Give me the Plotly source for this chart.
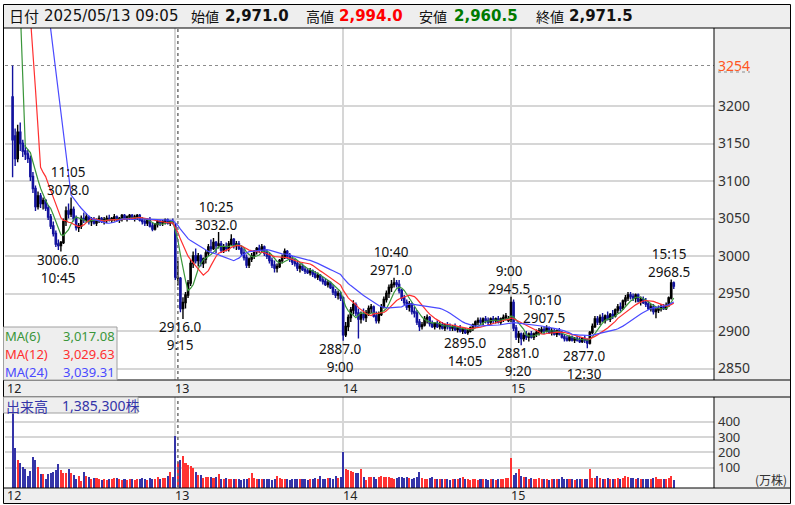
import plotly.graph_objects as go
import pandas as pd

# ------------------------------------------------------------------ data
days = ["12", "13", "14", "15"]
first_bar_time = ["9:10", "9:00", "9:00", "9:00"]   # 12th: delayed open

# closes of the previous session (seed for the moving averages)
prev_closes = [3705, 3700, 3698, 3702, 3696, 3700, 3704, 3700, 3698, 3694, 3700, 3702,
               3698, 3700, 3696, 3700, 3702, 3698, 3700, 3704, 3700, 3698, 3702]

# 5-minute bars (open, high, low, close)
day12_ohlc = [
    (3212, 3254, 3105, 3155), (3160, 3170, 3120, 3130), (3130, 3175, 3125, 3165), (3165, 3178, 3140, 3150),
    (3150, 3155, 3132, 3140), (3140, 3148, 3128, 3136), (3136, 3142, 3124, 3130), (3130, 3134, 3100, 3106),
    (3106, 3112, 3084, 3090), (3090, 3094, 3060, 3066), (3066, 3086, 3062, 3080), (3080, 3084, 3064, 3070),
    (3070, 3078, 3062, 3074), (3074, 3076, 3060, 3064), (3064, 3068, 3048, 3052), (3052, 3056, 3036, 3040),
    (3040, 3046, 3026, 3030), (3030, 3034, 3012, 3016), (3016, 3022, 3008, 3014), (3014, 3020, 3006, 3018),
    (3018, 3050, 3016, 3046), (3046, 3066, 3040, 3060), (3060, 3070, 3050, 3056), (3056, 3078, 3052, 3062),
    (3062, 3066, 3046, 3050), (3050, 3054, 3034, 3038), (3038, 3044, 3032, 3040), (3040, 3054, 3036, 3050),
    (3050, 3058, 3044, 3048), (3048, 3057, 3044, 3052), (3052, 3054, 3042, 3046), (3046, 3052, 3040, 3048),
    (3048, 3052, 3042, 3044), (3044, 3050, 3040, 3048), (3048, 3054, 3044, 3050), (3050, 3052, 3044, 3046),
    (3046, 3052, 3042, 3048), (3048, 3054, 3044, 3050), (3050, 3055, 3046, 3048), (3048, 3052, 3044, 3050),
    (3050, 3056, 3046, 3052), (3052, 3054, 3046, 3048), (3048, 3052, 3044, 3050), (3050, 3056, 3046, 3054),
    (3054, 3056, 3048, 3050), (3050, 3054, 3046, 3052), (3052, 3056, 3048, 3054), (3054, 3056, 3048, 3050),
    (3050, 3055, 3046, 3052), (3052, 3056, 3048, 3054), (3054, 3056, 3046, 3048), (3048, 3052, 3042, 3046),
    (3046, 3050, 3040, 3044), (3044, 3050, 3040, 3048), (3048, 3052, 3038, 3040), (3040, 3044, 3033, 3036),
    (3036, 3044, 3034, 3042), (3042, 3048, 3038, 3046), (3046, 3048, 3040, 3044), (3044, 3048, 3040, 3046),
    (3046, 3050, 3042, 3048), (3048, 3050, 3042, 3044), (3044, 3048, 3040, 3046), (3046, 3050, 3042, 3045),
]
day13_ohlc = [
    (3040, 3044, 2968, 2972), (2971, 2994, 2960.5, 2971.5), (2970, 2972, 2925, 2930), (2930, 2945, 2916, 2938),
    (2938, 2952, 2930, 2948), (2948, 2968, 2944, 2964), (2964, 2995, 2960, 2990), (2990, 3006, 2984, 3000),
    (3000, 3010, 2990, 2994), (2994, 3004, 2986, 3000), (3000, 3002, 2986, 2990), (2990, 2998, 2984, 2996),
    (2996, 3008, 2990, 3004), (3004, 3016, 3000, 3012), (3012, 3022, 3006, 3010), (3010, 3024, 3008, 3018),
    (3018, 3020, 3004, 3014), (3014, 3032, 3010, 3016), (3016, 3020, 3004, 3008), (3008, 3016, 3004, 3012),
    (3012, 3018, 3006, 3010), (3010, 3020, 3006, 3016), (3016, 3029, 3014, 3022), (3022, 3024, 3010, 3014),
    (3014, 3020, 3008, 3016), (3016, 3020, 3008, 3010), (3010, 3014, 3000, 3004), (3004, 3010, 2994, 2998),
    (2998, 3002, 2984, 2988), (2988, 2998, 2984, 2996), (2996, 3004, 2992, 3000), (3000, 3008, 2996, 3006),
    (3006, 3012, 3002, 3010), (3010, 3015, 3004, 3008), (3008, 3016, 3004, 3012), (3012, 3014, 3000, 3004),
    (3004, 3008, 2996, 3000), (3000, 3004, 2990, 2994), (2994, 2998, 2984, 2988), (2988, 2994, 2978, 2984),
    (2984, 2990, 2978, 2986), (2986, 2996, 2984, 2994), (2994, 3002, 2990, 2998), (2998, 3010, 2996, 3006),
    (3006, 3008, 2996, 3000), (3000, 3004, 2992, 2996), (2996, 3000, 2988, 2992), (2992, 2996, 2986, 2990),
    (2990, 2994, 2980, 2984), (2984, 2990, 2978, 2986), (2986, 2990, 2980, 2982), (2982, 2986, 2976, 2980),
    (2980, 2984, 2976, 2978), (2978, 2984, 2974, 2980), (2980, 2982, 2972, 2976), (2976, 2980, 2970, 2972),
    (2972, 2978, 2968, 2974), (2974, 2976, 2966, 2968), (2968, 2972, 2962, 2966), (2966, 2970, 2960, 2962),
    (2962, 2968, 2958, 2964), (2964, 2966, 2956, 2958), (2958, 2962, 2948, 2952), (2952, 2956, 2944, 2948),
    (2948, 2954, 2942, 2950), (2950, 2952, 2940, 2944),
]
day14_ohlc = [
    (2944, 2946, 2887, 2895), (2895, 2912, 2892, 2906), (2906, 2922, 2900, 2918), (2918, 2932, 2912, 2928),
    (2928, 2941, 2922, 2935), (2935, 2938, 2920, 2924), (2924, 2930, 2890, 2916), (2916, 2926, 2910, 2922),
    (2922, 2930, 2914, 2918), (2918, 2928, 2912, 2924), (2924, 2934, 2920, 2930), (2930, 2936, 2924, 2932),
    (2932, 2934, 2918, 2920), (2920, 2926, 2910, 2914), (2914, 2926, 2910, 2922), (2922, 2936, 2920, 2932),
    (2932, 2946, 2930, 2942), (2942, 2954, 2938, 2950), (2950, 2962, 2944, 2958), (2958, 2968, 2952, 2962),
    (2962, 2971, 2958, 2964), (2964, 2968, 2958, 2962), (2962, 2968, 2950, 2954), (2954, 2956, 2940, 2944),
    (2944, 2948, 2934, 2938), (2938, 2942, 2928, 2932), (2932, 2940, 2926, 2936), (2936, 2938, 2922, 2926),
    (2926, 2932, 2918, 2924), (2924, 2928, 2908, 2912), (2912, 2916, 2900, 2906), (2906, 2912, 2902, 2908),
    (2908, 2920, 2906, 2916), (2916, 2922, 2910, 2918), (2918, 2920, 2906, 2910), (2910, 2914, 2904, 2906),
    (2906, 2912, 2902, 2910), (2910, 2914, 2904, 2906), (2906, 2912, 2902, 2908), (2908, 2912, 2902, 2904),
    (2904, 2910, 2900, 2908), (2908, 2912, 2902, 2906), (2906, 2910, 2900, 2904), (2904, 2908, 2900, 2906),
    (2906, 2910, 2900, 2902), (2902, 2906, 2898, 2904), (2904, 2908, 2898, 2900), (2900, 2904, 2896, 2902),
    (2902, 2904, 2896, 2898), (2898, 2902, 2895, 2900), (2900, 2906, 2898, 2904), (2904, 2910, 2900, 2908),
    (2908, 2914, 2904, 2912), (2912, 2918, 2908, 2914), (2914, 2918, 2908, 2912), (2912, 2918, 2908, 2916),
    (2916, 2920, 2910, 2914), (2914, 2918, 2908, 2912), (2912, 2918, 2908, 2916), (2916, 2920, 2910, 2914),
    (2914, 2918, 2910, 2916), (2916, 2920, 2910, 2912), (2912, 2918, 2908, 2916), (2916, 2922, 2912, 2918),
    (2918, 2924, 2914, 2920), (2914, 2920, 2912, 2916),
]
day15_ohlc = [
    (2916, 2945.5, 2912, 2938), (2938, 2942, 2900, 2904), (2904, 2908, 2888, 2892), (2892, 2900, 2884, 2896),
    (2896, 2898, 2881, 2890), (2890, 2898, 2886, 2894), (2894, 2900, 2888, 2892), (2892, 2898, 2886, 2896),
    (2896, 2900, 2890, 2892), (2892, 2898, 2888, 2896), (2896, 2902, 2892, 2898), (2898, 2904, 2894, 2900),
    (2900, 2906, 2896, 2902), (2902, 2906, 2896, 2900), (2900, 2907.5, 2898, 2904), (2904, 2906, 2896, 2898),
    (2898, 2904, 2894, 2900), (2900, 2904, 2894, 2896), (2896, 2902, 2892, 2900), (2900, 2904, 2894, 2896),
    (2896, 2900, 2890, 2892), (2892, 2896, 2886, 2890), (2890, 2894, 2886, 2888), (2888, 2894, 2886, 2892),
    (2892, 2894, 2886, 2888), (2888, 2892, 2884, 2890), (2890, 2894, 2886, 2888), (2888, 2892, 2884, 2886),
    (2886, 2892, 2884, 2890), (2890, 2894, 2884, 2888), (2888, 2890, 2877, 2884), (2884, 2900, 2882, 2898),
    (2898, 2910, 2896, 2906), (2906, 2920, 2904, 2916), (2916, 2920, 2908, 2912), (2912, 2922, 2908, 2918),
    (2918, 2924, 2912, 2914), (2914, 2922, 2910, 2920), (2920, 2926, 2914, 2916), (2916, 2924, 2912, 2922),
    (2922, 2928, 2916, 2920), (2920, 2930, 2918, 2928), (2928, 2936, 2924, 2932), (2932, 2938, 2926, 2930),
    (2930, 2942, 2928, 2940), (2940, 2948, 2934, 2944), (2944, 2952, 2940, 2948), (2948, 2952, 2942, 2946),
    (2946, 2950, 2940, 2944), (2944, 2950, 2938, 2948), (2948, 2950, 2938, 2940), (2940, 2946, 2934, 2942),
    (2942, 2946, 2936, 2938), (2938, 2944, 2932, 2936), (2936, 2940, 2928, 2930), (2930, 2936, 2926, 2932),
    (2932, 2936, 2922, 2926), (2926, 2932, 2917, 2928), (2928, 2934, 2924, 2930), (2930, 2936, 2926, 2932),
    (2932, 2936, 2928, 2930), (2930, 2938, 2928, 2934), (2934, 2946, 2932, 2944), (2944, 2968.5, 2942, 2964),
    (2964, 2966, 2956, 2960),
]

# volume per bar, in 10,000 shares (万株)
day12_vol = [480, 226, 150, 133, 102, 89, 48, 81, 172, 150,
             102, 59, 59, 26, 57, 67, 74, 85, 122, 85,
             67, 63, 89, 63, 52, 24, 46, 12, 74, 46,
             37, 24, 31, 31, 26, 20, 24, 22, 28, 26,
             31, 31, 24, 22, 26, 22, 28, 24, 20, 26,
             24, 31, 28, 22, 33, 26, 24, 37, 28, 31,
             35, 46, 74, 40]
day13_vol = [307, 138.53, 150, 176, 128, 118, 111, 96, 74, 52,
             52, 31, 41, 41, 41, 35, 41, 59, 28, 26,
             31, 28, 26, 24, 24, 26, 22, 24, 28, 31,
             63, 35, 28, 26, 24, 28, 26, 24, 22, 28,
             46, 31, 28, 26, 24, 22, 24, 28, 26, 24,
             26, 24, 22, 28, 26, 31, 24, 46, 28, 26,
             31, 33, 28, 48, 35, 40]
day14_vol = [204, 89, 85, 81, 74, 63, 67, 89, 41, 20,
             41, 37, 41, 28, 37, 46, 41, 41, 37, 31,
             26, 35, 41, 41, 35, 37, 31, 28, 35, 37,
             74, 31, 28, 26, 31, 41, 28, 26, 24, 28,
             26, 24, 22, 28, 26, 24, 31, 37, 26, 24,
             22, 26, 24, 22, 26, 28, 24, 22, 26, 24,
             22, 26, 24, 28, 31, 35]
day15_vol = [165, 52, 67, 89, 46, 41, 37, 26, 31, 28,
             26, 31, 28, 24, 26, 22, 28, 24, 26, 24,
             41, 28, 26, 24, 26, 22, 24, 26, 24, 28,
             24, 89, 35, 31, 48, 31, 28, 26, 31, 28,
             26, 28, 31, 26, 31, 48, 41, 31, 35, 28,
             31, 26, 28, 24, 26, 28, 31, 37, 28, 26,
             24, 28, 33, 48, 20]

price_ticks = [2850, 2900, 2950, 3000, 3050, 3100, 3150, 3200]
volume_ticks = [100, 200, 300, 400]
period_high = 3254
cursor = ("13", "9:05")

ma_periods = [6, 12, 24]
ma_names = ["MA(6)", "MA(12)", "MA(24)"]
ma_legend_values = ["3,017.08", "3,029.63", "3,039.31"]
volume_legend = ["出来高", "1,385,300株"]
header_labels = ["日付", "始値", "高値", "安値", "終値"]
header_values = ["2025/05/13 09:05", "2,971.0", "2,994.0", "2,960.5", "2,971.5"]

# high / low callouts: (day, time, price, kind)
marks = [
    ("12", "11:05", 3078.0, "high"), ("12", "10:45", 3006.0, "low"),
    ("13", "10:25", 3032.0, "high"), ("13", "9:15", 2916.0, "low"),
    ("14", "10:40", 2971.0, "high"), ("14", "9:00", 2887.0, "low"),
    ("14", "14:05", 2895.0, "low"),
    ("15", "9:00", 2945.5, "high"), ("15", "10:10", 2907.5, "high"),
    ("15", "9:20", 2881.0, "low"), ("15", "12:30", 2877.0, "low"),
    ("15", "15:15", 2968.5, "high"),
]

# ------------------------------------------------------------------ build
SLOTS = 66  # 9:00-11:25 and 12:30-15:25 in 5 minute steps


def slot(t):
    h, m = map(int, t.split(":"))
    mins = h * 60 + m
    if mins < 12 * 60:
        return (mins - 9 * 60) // 5
    return 30 + (mins - 12 * 60 - 30) // 5


def gx(day, t):
    return days.index(day) * SLOTS + slot(t)


xs, O, H, L, C, V = [], [], [], [], [], []
for d, (bars, vols) in enumerate(zip([day12_ohlc, day13_ohlc, day14_ohlc, day15_ohlc],
                                     [day12_vol, day13_vol, day14_vol, day15_vol])):
    s0 = slot(first_bar_time[d])
    for i, ((o, h, l, c), v) in enumerate(zip(bars, vols)):
        xs.append(d * SLOTS + s0 + i)
        O.append(o); H.append(h); L.append(l); C.append(c); V.append(v)

series = pd.Series(prev_closes + C, dtype=float)
ma = {n: series.rolling(n).mean().iloc[len(prev_closes):].tolist() for n in ma_periods}

vol_colors = ["#ff3333" if c > o else ("#3434a8" if c < o else "#9a9a9a") for o, c in zip(O, C)]

# ------------------------------------------------------------------ geometry (pixels)
W, Hh = 795, 505
PL, PR, PT, PB = 5, 714, 28, 488
PRICE_BOTTOM, VOL_TOP = 380, 397
X0, DX = 7.5, 2.543
XR = [(PL - X0) / DX, (PR - X0) / DX]
PRICE_R = [3000 - (PRICE_BOTTOM - 256) / 0.75, 3000 + (256 - PT) / 0.75]
VPX = (467.7 - 421.7) / 300.0
VOL_R = [100 - (PB - 467.7) / VPX, 400 + (421.7 - VOL_TOP) / VPX]


def px(x):
    return (x - PL) / (PR - PL)


def py(y):
    return (PB - y) / (PB - PT)


GRID = "#d6d6d6"
BAND = "#eeeeee"
TXT = "#222222"
NUMFONT = "Noto Sans, Noto Sans CJK JP"

fig = go.Figure()
fig.add_trace(go.Candlestick(
    x=xs, open=O, high=H, low=L, close=C, xaxis="x", yaxis="y",
    increasing=dict(line=dict(color="#000000", width=1.4), fillcolor="#000000"),
    decreasing=dict(line=dict(color="#12129e", width=1.4), fillcolor="#12129e"),
    whiskerwidth=0, showlegend=False, hoverinfo="skip"))
ma_colors = ["#3a963a", "#ff3030", "#4a4aff"]
for n, col in zip(ma_periods, ma_colors):
    fig.add_trace(go.Scatter(x=xs, y=ma[n], mode="lines", line=dict(color=col, width=1.2),
                             xaxis="x", yaxis="y", showlegend=False, hoverinfo="skip"))
fig.add_trace(go.Bar(x=xs, y=[v - VOL_R[0] for v in V], base=VOL_R[0], width=0.8,
                     marker=dict(color=vol_colors, line=dict(width=0)),
                     xaxis="x2", yaxis="y2", showlegend=False, hoverinfo="skip"))

day_lines = [d * SLOTS for d in range(1, len(days))]
axis_common = dict(range=XR, showticklabels=False, tickvals=day_lines, showgrid=True,
                   gridcolor=GRID, gridwidth=1.5, zeroline=False, showline=False, ticks="")

shapes = []
# band backgrounds
for (x0, y0, x1, y1) in [(3.5, 4.5, 790.5, 28), (PR, PT, 790.5, PB), (3.5, PRICE_BOTTOM, 790.5, VOL_TOP),
                         (3.5, PB, 790.5, 503.5)]:
    shapes.append(dict(type="rect", xref="paper", yref="paper", x0=px(x0), x1=px(x1), y0=py(y0), y1=py(y1),
                       fillcolor=BAND, line=dict(width=0), layer="below"))
# frame lines
for (x0, y0, x1, y1) in [(3.5, 4.5, 790.5, 4.5), (3.5, 28, 790.5, 28), (3.5, PRICE_BOTTOM, 790.5, PRICE_BOTTOM),
                         (3.5, VOL_TOP, 790.5, VOL_TOP), (3.5, PB, 790.5, PB), (3.5, 503.5, 790.5, 503.5),
                         (3.5, 4.5, 3.5, 503.5), (790.5, 4.5, 790.5, 503.5),
                         (PR, PT, PR, PRICE_BOTTOM), (PR, VOL_TOP, PR, PB)]:
    shapes.append(dict(type="line", xref="paper", yref="paper", x0=px(x0), x1=px(x1), y0=py(y0), y1=py(y1),
                       line=dict(color="#000000", width=1), layer="above"))
# period high dashed line
shapes.append(dict(type="line", xref="x", yref="y", x0=XR[0], x1=XR[1], y0=period_high, y1=period_high,
                   line=dict(color="#8c8c8c", width=1, dash="3px,3px"), layer="below"))
shapes.append(dict(type="line", xref="paper", yref="paper", x0=px(718), x1=px(750), y0=py(72), y1=py(72),
                   line=dict(color="#8c8c8c", width=1, dash="3px,3px")))
# cursor line
cx = gx(*cursor)
for ya, rng in [("y", PRICE_R), ("y2", VOL_R)]:
    shapes.append(dict(type="line", xref="x" if ya == "y" else "x2", yref=ya, x0=cx, x1=cx, y0=rng[0], y1=rng[1],
                       line=dict(color="#707070", width=1.5, dash="dot"), layer="above"))
# legend boxes
shapes.append(dict(type="rect", xref="paper", yref="paper", x0=px(3.5), x1=px(117), y0=py(327), y1=py(PRICE_BOTTOM),
                   fillcolor=BAND, line=dict(color="#a0a0a0", width=1), layer="above"))
shapes.append(dict(type="rect", xref="paper", yref="paper", x0=px(3.5), x1=px(138), y0=py(VOL_TOP), y1=py(413),
                   fillcolor=BAND, line=dict(color="#a0a0a0", width=1), layer="above"))

ann = []


def text(x, y, s, size=14, color=TXT, anchor="left", family=NUMFONT, bold=False):
    ann.append(dict(xref="paper", yref="paper", x=px(x), y=py(y), text=("<b>%s</b>" % s) if bold else s,
                    showarrow=False, xanchor=anchor, yanchor="middle", borderpad=0,
                    font=dict(size=size, color=color, family=family)))


# header
HDR = "DejaVu Sans, Noto Sans CJK JP"
label_x = [8, 190, 305, 418, 535]
value_x = [43, 224, 338, 453, 568]
value_col = ["#111111", "#111111", "#ff0000", "#007a00", "#111111"]
for i, (lab, val) in enumerate(zip(header_labels, header_values)):
    text(label_x[i], 16, lab, size=15 if i == 0 else 14, color="#111111", family="Noto Sans CJK JP")
    text(value_x[i], 16, val, size=15, color=value_col[i], family=HDR, bold=(i > 0))

# date bands
for d, lab in enumerate(days):
    xl = X0 + DX * d * SLOTS - 1 if d else 6
    text(xl, 388.5, lab, size=12.5)
    text(xl, 496, lab, size=12.5)

# MA legend
for i, (nm, val, col) in enumerate(zip(ma_names, ma_legend_values, ma_colors)):
    yy = 336 + 18.2 * i
    text(4, yy, nm, size=13, color=col)
    text(116, yy, val, size=13, color=col, anchor="right")
# volume legend
text(5, 405.5, volume_legend[0], size=14, color="#3434a8", family="Noto Sans CJK JP")
text(61, 405.5, volume_legend[1], size=14, color="#3434a8")

# period high label and unit
text(717, 66, str(period_high), size=14, color="#ff5522")
text(788, 479, "(万株)", size=12, color="#333333", anchor="right", family="Noto Sans CJK JP")

# high / low callouts (two-line blocks: time above price for highs, price above time for lows)
for day, t, p, kind in marks:
    x = gx(day, t)
    if kind == "high":
        txt_, anchor, shift = "%s<br>%.1f" % (t, p), "bottom", -2.5
    else:
        txt_, anchor, shift = "%.1f<br>%s" % (p, t), "top", 2
    ann.append(dict(xref="x", yref="y", x=x, y=p, text=txt_, showarrow=False, xanchor="center",
                    yanchor=anchor, yshift=shift, xshift=-2.5, borderpad=0, align="center",
                    font=dict(size=13.5, color="#111111", family=NUMFONT)))

fig.update_layout(
    width=W, height=Hh, autosize=False,
    margin=dict(l=PL, r=W - PR, t=PT, b=Hh - PB, pad=0),
    paper_bgcolor="#ffffff", plot_bgcolor="#ffffff",
    showlegend=False, hovermode=False, bargap=0,
    xaxis=dict(domain=[0, 1], anchor="y", rangeslider=dict(visible=False), **axis_common),
    xaxis2=dict(domain=[0, 1], anchor="y2", matches="x", **axis_common),
    yaxis=dict(domain=[py(PRICE_BOTTOM), 1], range=PRICE_R, side="right", tickvals=price_ticks,
               showgrid=True, gridcolor=GRID, gridwidth=1.5, zeroline=False, showline=False, ticks="",
               ticklabelstandoff=3, tickfont=dict(size=14, color="#333333", family=NUMFONT)),
    yaxis2=dict(domain=[0, py(VOL_TOP)], range=VOL_R, side="right", tickvals=volume_ticks,
                showgrid=True, gridcolor=GRID, gridwidth=1.5, zeroline=False, showline=False, ticks="",
                ticklabelstandoff=3, tickfont=dict(size=13, color="#333333", family=NUMFONT)),
    shapes=shapes, annotations=ann,
)

fig.write_html("out.html", config={"displayModeBar": False},
               post_script="document.documentElement.style.margin='0';document.body.style.margin='0';"
                           "document.body.style.overflow='hidden';")
